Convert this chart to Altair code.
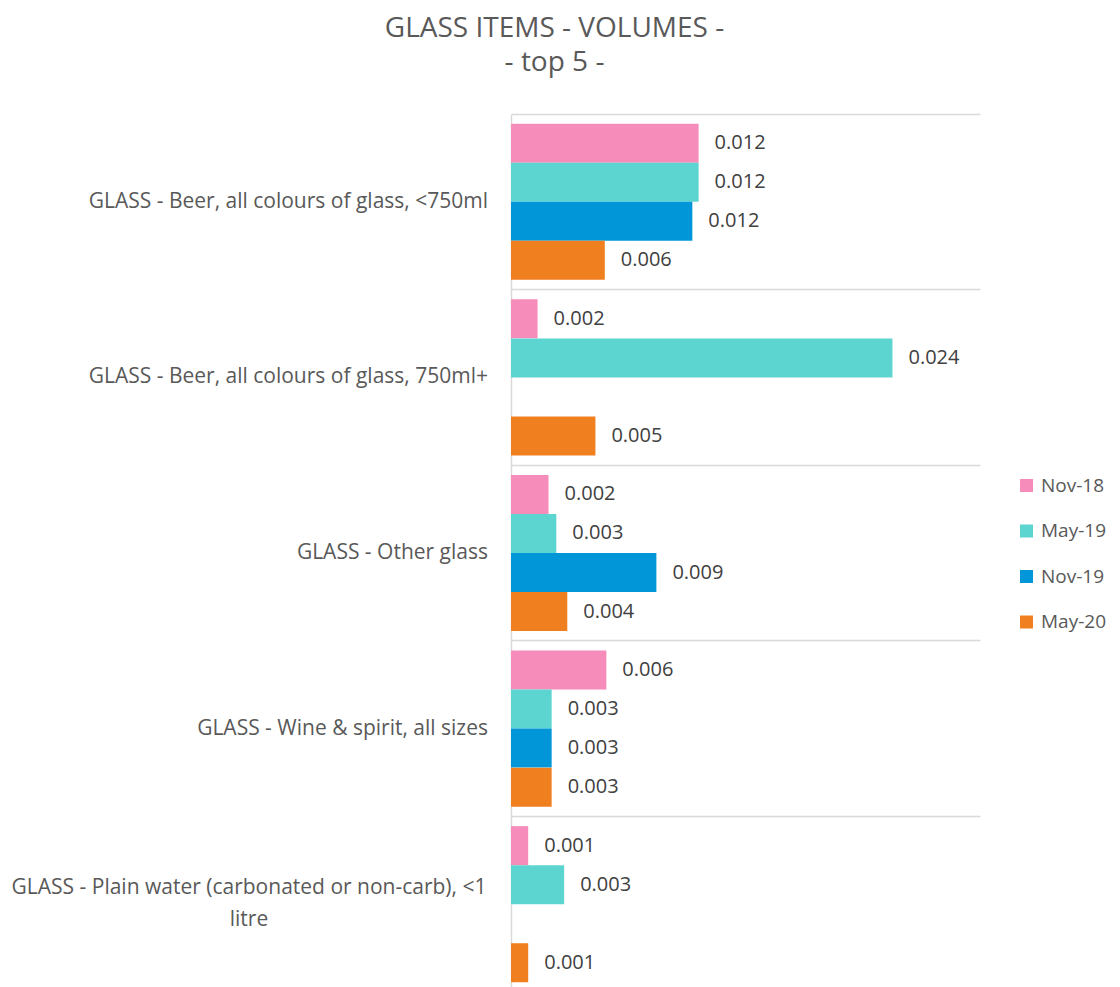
import altair as alt
import pandas as pd

categories = [
    "GLASS - Beer, all colours of glass, <750ml",
    "GLASS - Beer, all colours of glass, 750ml+",
    "GLASS - Other glass",
    "GLASS - Wine & spirit, all sizes",
    "GLASS - Plain water (carbonated or non-carb), <1 litre",
]
series = ["Nov-18", "May-19", "Nov-19", "May-20"]
colors = ["#F58CBA", "#5CD5D1", "#0096D8", "#F07F1F"]

nov18 = [0.0120, 0.0017, 0.0024, 0.0061, 0.0011]
may19 = [0.0120, 0.0244, 0.0029, 0.0026, 0.0034]
nov19 = [0.0116, None, 0.0093, 0.0026, None]
may20 = [0.0060, 0.0054, 0.0036, 0.0026, 0.0011]

# wrapped label lines for category axis
single_line_cats = categories[:4]
wrapped_cat = categories[4]
wrapped_lines = ["GLASS - Plain water (carbonated or non-carb), <1", "litre"]

rows = []
for s, vals in zip(series, [nov18, may19, nov19, may20]):
    for c, v in zip(categories, vals):
        if v is not None:
            rows.append({"category": c, "series": s, "value": v})
df = pd.DataFrame(rows)

font = "Open Sans"
ysc = alt.Scale(domain=categories, paddingInner=0, paddingOuter=0)
y = alt.Y("category:N", scale=ysc, sort=categories,
          axis=alt.Axis(title=None, labels=False, ticks=False, grid=True,
                        bandPosition=0, gridColor="#D9D9D9", gridWidth=1.5,
                        domainColor="#D9D9D9", domainWidth=1.5))
x = alt.X("value:Q", scale=alt.Scale(domain=[0, 0.03]), axis=None)
yoff = alt.YOffset("series:N", sort=series,
                   scale=alt.Scale(domain=series, paddingInner=0, paddingOuter=0.25))

bars = alt.Chart(df).mark_bar(size=39).encode(
    y=y, x=x, yOffset=yoff,
    color=alt.Color("series:N", sort=series,
                    scale=alt.Scale(domain=series, range=colors),
                    legend=alt.Legend(title=None, orient="none", legendX=506, legendY=362,
                                      symbolType="square", symbolSize=169,
                                      symbolStrokeWidth=0,
                                      labelFont=font, labelFontSize=19, labelColor="#595959",
                                      rowPadding=25.5, labelOffset=5)),
)

labels = alt.Chart(df).mark_text(align="left", baseline="middle", dx=16,
                                 font=font, fontSize=20, color="#404040").encode(
    y=alt.Y("category:N", scale=ysc, sort=categories),
    x=x, yOffset=yoff,
    text=alt.Text("value:Q", format=".3f"),
)

cat_df = pd.DataFrame({"category": single_line_cats})
cat_text = alt.Chart(cat_df).mark_text(align="right", baseline="middle",
                                       font=font, fontSize=21, color="#595959").encode(
    y=alt.Y("category:N", scale=ysc, sort=categories),
    x=alt.value(-23),
    text="category:N",
)

wrap_df = pd.DataFrame({"category": [wrapped_cat], "label": [wrapped_lines]})
wrap_text = alt.Chart(wrap_df).mark_text(align="center", baseline="middle", lineHeight=32,
                                         dy=-16, font=font, fontSize=21,
                                         color="#595959").encode(
    y=alt.Y("category:N", scale=ysc, sort=categories),
    x=alt.value(-262),
    text="label",
)

chart = alt.layer(bars, labels, cat_text, wrap_text).properties(
    width=469, height=878,
    autosize=alt.AutoSizeParams(type="none"),
    padding={"left": 503, "top": 106, "right": 132, "bottom": 5},
    title=alt.TitleParams(["GLASS ITEMS - VOLUMES -", "- top 5 -"], font=font,
                          fontSize=28, fontWeight="normal", color="#595959",
                          lineHeight=34, anchor="middle", dx=-191, offset=37),
).configure_view(stroke=None)

chart.save("out.html", embed_options={"renderer": "svg", "actions": False})
